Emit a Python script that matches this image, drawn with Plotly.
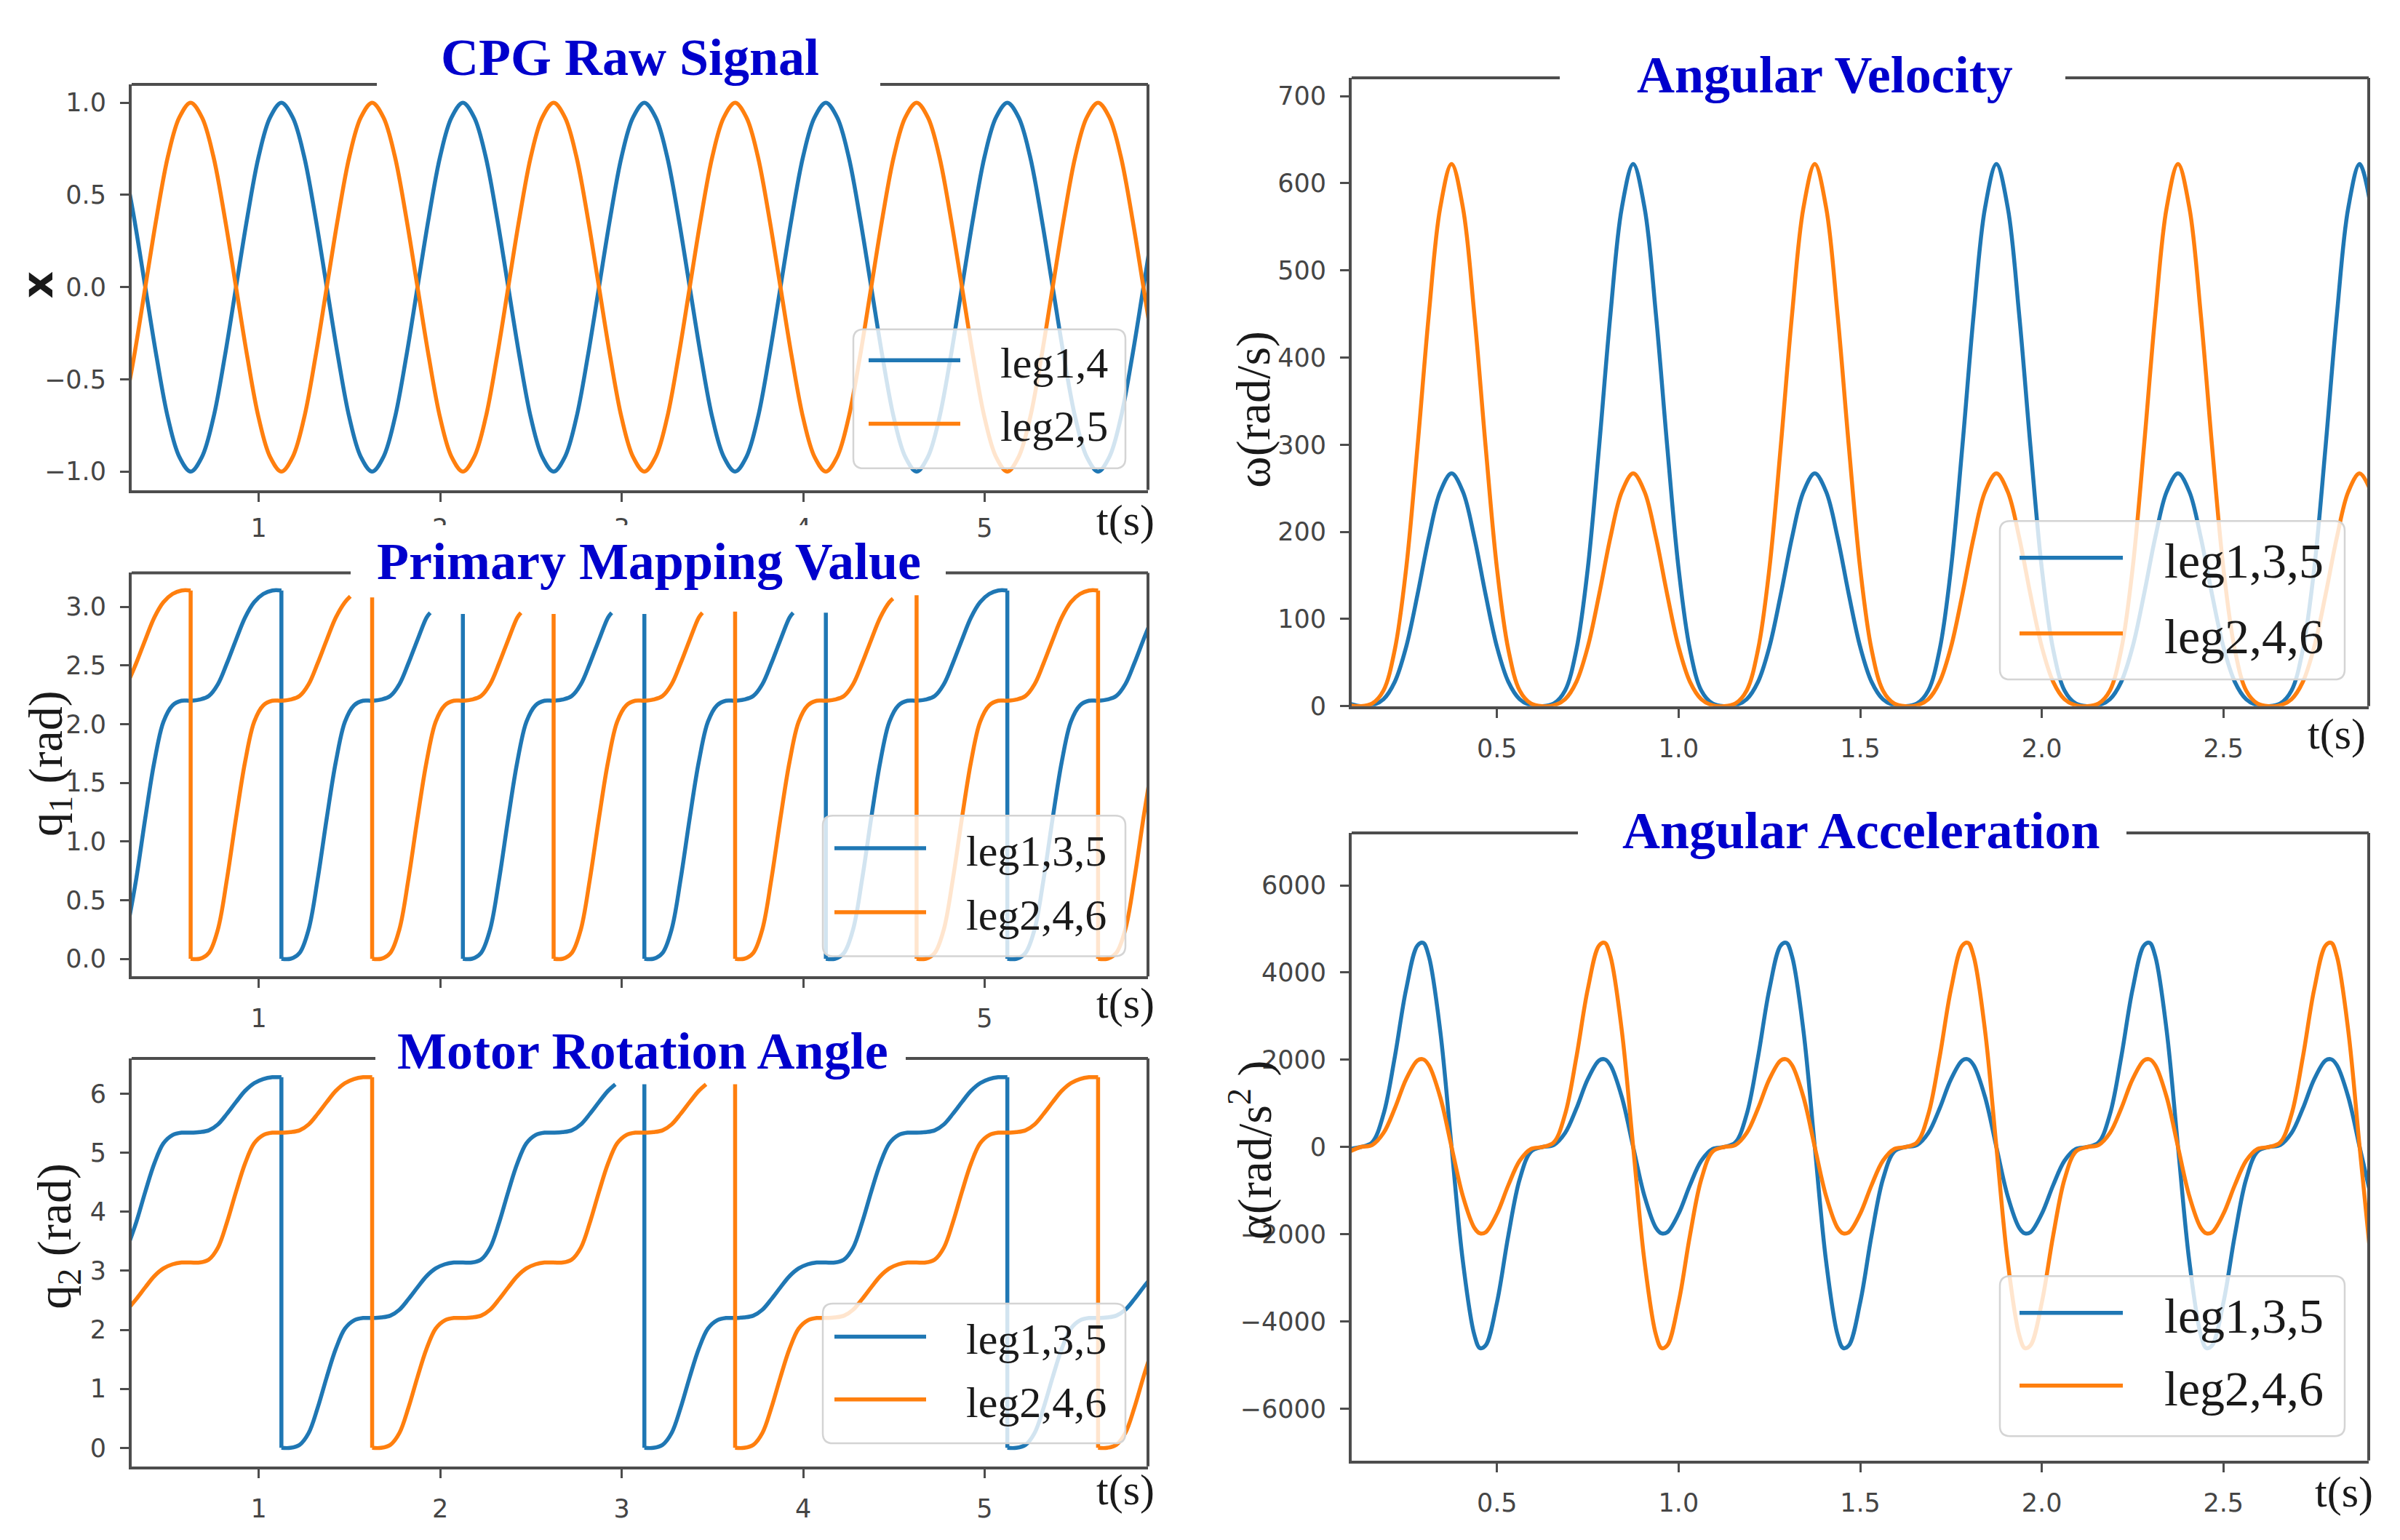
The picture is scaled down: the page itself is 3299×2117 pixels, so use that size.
import plotly.graph_objects as go

W, H = 3299, 2117
BLUE = "#1f77b4"
ORANGE = "#ff7f0e"
INK = "#4d4d4d"
TITLE_BLUE = "#0000cc"

# ---------------- data ----------------
# CPG raw signal
t_cpg = [0.25, 0.3125, 0.375, 0.4375, 0.5, 0.5625, 0.625, 0.6875, 0.75, 0.8125, 0.875, 0.9375,
         1.0, 1.0625, 1.125, 1.1875, 1.25, 1.3125, 1.375, 1.4375, 1.5, 1.5625, 1.625, 1.6875,
         1.75, 1.8125, 1.875, 1.9375, 2.0, 2.0625, 2.125, 2.1875, 2.25, 2.3125, 2.375, 2.4375,
         2.5, 2.5625, 2.625, 2.6875, 2.75, 2.8125, 2.875, 2.9375, 3.0, 3.0625, 3.125, 3.1875,
         3.25, 3.3125, 3.375, 3.4375, 3.5, 3.5625, 3.625, 3.6875, 3.75, 3.8125, 3.875, 3.9375,
         4.0, 4.0625, 4.125, 4.1875, 4.25, 4.3125, 4.375, 4.4375, 4.5, 4.5625, 4.625, 4.6875,
         4.75, 4.8125, 4.875, 4.9375, 5.0, 5.0625, 5.125, 5.1875, 5.25, 5.3125, 5.375, 5.4375,
         5.5, 5.5625, 5.625, 5.6875, 5.75, 5.8125, 5.875, 5.9375, 6.0]
x_leg14 = [0.71, 0.38, 0.0, -0.38, -0.71, -0.92, -1.0, -0.92, -0.71, -0.38, 0.0, 0.38, 0.71, 0.92, 1.0, 0.92,
           0.71, 0.38, 0.0, -0.38, -0.71, -0.92, -1.0, -0.92, -0.71, -0.38, 0.0, 0.38, 0.71, 0.92, 1.0, 0.92,
           0.71, 0.38, 0.0, -0.38, -0.71, -0.92, -1.0, -0.92, -0.71, -0.38, 0.0, 0.38, 0.71, 0.92, 1.0, 0.92,
           0.71, 0.38, 0.0, -0.38, -0.71, -0.92, -1.0, -0.92, -0.71, -0.38, 0.0, 0.38, 0.71, 0.92, 1.0, 0.92,
           0.71, 0.38, 0.0, -0.38, -0.71, -0.92, -1.0, -0.92, -0.71, -0.38, 0.0, 0.38, 0.71, 0.92, 1.0, 0.92,
           0.71, 0.38, 0.0, -0.38, -0.71, -0.92, -1.0, -0.92, -0.71, -0.38, 0.0, 0.38, 0.71]
x_leg25 = [-0.71, -0.38, 0.0, 0.38, 0.71, 0.92, 1.0, 0.92, 0.71, 0.38, 0.0, -0.38, -0.71, -0.92, -1.0, -0.92,
           -0.71, -0.38, 0.0, 0.38, 0.71, 0.92, 1.0, 0.92, 0.71, 0.38, 0.0, -0.38, -0.71, -0.92, -1.0, -0.92,
           -0.71, -0.38, 0.0, 0.38, 0.71, 0.92, 1.0, 0.92, 0.71, 0.38, 0.0, -0.38, -0.71, -0.92, -1.0, -0.92,
           -0.71, -0.38, 0.0, 0.38, 0.71, 0.92, 1.0, 0.92, 0.71, 0.38, 0.0, -0.38, -0.71, -0.92, -1.0, -0.92,
           -0.71, -0.38, 0.0, 0.38, 0.71, 0.92, 1.0, 0.92, 0.71, 0.38, 0.0, -0.38, -0.71, -0.92, -1.0, -0.92,
           -0.71, -0.38, 0.0, 0.38, 0.71, 0.92, 1.0, 0.92, 0.71, 0.38, 0.0, -0.38, -0.71]

# Primary mapping value q1 (None = break in the drawn curve)
t_q1_leg135 = [
    0.275, 0.325, 0.375, 0.425, 0.475, 0.525, 0.575, 0.625, 0.675, 0.725, 0.775, 0.825,
    0.875, 0.925, 0.975, 1.025, 1.075, 1.125,
    None, 1.125, 1.125, None,
    1.125, 1.175, 1.225, 1.275, 1.325, 1.375, 1.425, 1.475, 1.525, 1.575, 1.625, 1.675,
    1.725, 1.775, 1.825, 1.875, 1.925, 1.945,
    None, 2.125, 2.125, None,
    2.125, 2.175, 2.225, 2.275, 2.325, 2.375, 2.425, 2.475, 2.525, 2.575, 2.625, 2.675,
    2.725, 2.775, 2.825, 2.875, 2.925, 2.945,
    None, 3.125, 3.125, None,
    3.125, 3.175, 3.225, 3.275, 3.325, 3.375, 3.425, 3.475, 3.525, 3.575, 3.625, 3.675,
    3.725, 3.775, 3.825, 3.875, 3.925, 3.945,
    None, 4.125, 4.125, None,
    4.125, 4.175, 4.225, 4.275, 4.325, 4.375, 4.425, 4.475, 4.525, 4.575, 4.625, 4.675,
    4.725, 4.775, 4.825, 4.875, 4.925, 4.975, 5.025, 5.075, 5.125,
    None, 5.125, 5.125, None,
    5.125, 5.175, 5.225, 5.275, 5.325, 5.375, 5.425, 5.475, 5.525, 5.575, 5.625, 5.675,
    5.725, 5.775, 5.825, 5.875, 5.925]
q1_leg135 = [
    0.25, 0.68, 1.20, 1.68, 2.02, 2.16, 2.20, 2.20, 2.21, 2.24, 2.34, 2.52,
    2.72, 2.91, 3.04, 3.11, 3.14, 3.14,
    None, 3.14, 0.0, None,
    0.0, 0.0, 0.05, 0.25, 0.68, 1.20, 1.68, 2.02, 2.16, 2.20, 2.20, 2.21,
    2.24, 2.34, 2.52, 2.72, 2.91, 2.95,
    None, 2.94, 0.0, None,
    0.0, 0.0, 0.05, 0.25, 0.68, 1.20, 1.68, 2.02, 2.16, 2.20, 2.20, 2.21,
    2.24, 2.34, 2.52, 2.72, 2.91, 2.95,
    None, 2.94, 0.0, None,
    0.0, 0.0, 0.05, 0.25, 0.68, 1.20, 1.68, 2.02, 2.16, 2.20, 2.20, 2.21,
    2.24, 2.34, 2.52, 2.72, 2.91, 2.95,
    None, 2.95, 0.0, None,
    0.0, 0.0, 0.05, 0.25, 0.68, 1.20, 1.68, 2.02, 2.16, 2.20, 2.20, 2.21,
    2.24, 2.34, 2.52, 2.72, 2.91, 3.04, 3.11, 3.14, 3.14,
    None, 3.14, 0.0, None,
    0.0, 0.0, 0.05, 0.25, 0.68, 1.20, 1.68, 2.02, 2.16, 2.20, 2.20, 2.21,
    2.24, 2.34, 2.52, 2.72, 2.91]

t_q1_leg246 = [
    0.275, 0.325, 0.375, 0.425, 0.475, 0.525, 0.575, 0.625,
    None, 0.625, 0.625, None,
    0.625, 0.675, 0.725, 0.775, 0.825, 0.875, 0.925, 0.975, 1.025, 1.075, 1.125, 1.175,
    1.225, 1.275, 1.325, 1.375, 1.425, 1.475, 1.505,
    None, 1.625, 1.625, None,
    1.625, 1.675, 1.725, 1.775, 1.825, 1.875, 1.925, 1.975, 2.025, 2.075, 2.125, 2.175,
    2.225, 2.275, 2.325, 2.375, 2.425, 2.445,
    None, 2.625, 2.625, None,
    2.625, 2.675, 2.725, 2.775, 2.825, 2.875, 2.925, 2.975, 3.025, 3.075, 3.125, 3.175,
    3.225, 3.275, 3.325, 3.375, 3.425, 3.445,
    None, 3.625, 3.625, None,
    3.625, 3.675, 3.725, 3.775, 3.825, 3.875, 3.925, 3.975, 4.025, 4.075, 4.125, 4.175,
    4.225, 4.275, 4.325, 4.375, 4.425, 4.475, 4.495,
    None, 4.625, 4.625, None,
    4.625, 4.675, 4.725, 4.775, 4.825, 4.875, 4.925, 4.975, 5.025, 5.075, 5.125, 5.175,
    5.225, 5.275, 5.325, 5.375, 5.425, 5.475, 5.525, 5.575, 5.625,
    None, 5.625, 5.625, None,
    5.625, 5.675, 5.725, 5.775, 5.825, 5.875, 5.925]
q1_leg246 = [
    2.34, 2.52, 2.72, 2.91, 3.04, 3.11, 3.14, 3.14,
    None, 3.14, 0.0, None,
    0.0, 0.0, 0.05, 0.25, 0.68, 1.20, 1.68, 2.02, 2.16, 2.20, 2.20, 2.21,
    2.24, 2.34, 2.52, 2.72, 2.91, 3.04, 3.09,
    None, 3.08, 0.0, None,
    0.0, 0.0, 0.05, 0.25, 0.68, 1.20, 1.68, 2.02, 2.16, 2.20, 2.20, 2.21,
    2.24, 2.34, 2.52, 2.72, 2.91, 2.95,
    None, 2.94, 0.0, None,
    0.0, 0.0, 0.05, 0.25, 0.68, 1.20, 1.68, 2.02, 2.16, 2.20, 2.20, 2.21,
    2.24, 2.34, 2.52, 2.72, 2.91, 2.95,
    None, 2.96, 0.0, None,
    0.0, 0.0, 0.05, 0.25, 0.68, 1.20, 1.68, 2.02, 2.16, 2.20, 2.20, 2.21,
    2.24, 2.34, 2.52, 2.72, 2.91, 3.04, 3.07,
    None, 3.10, 0.0, None,
    0.0, 0.0, 0.05, 0.25, 0.68, 1.20, 1.68, 2.02, 2.16, 2.20, 2.20, 2.21,
    2.24, 2.34, 2.52, 2.72, 2.91, 3.04, 3.11, 3.14, 3.14,
    None, 3.14, 0.0, None,
    0.0, 0.0, 0.05, 0.25, 0.68, 1.20, 1.68]

# Motor rotation angle q2
t_q2_leg135 = [
    0.275, 0.325, 0.375, 0.425, 0.475, 0.525, 0.575, 0.625, 0.675, 0.725, 0.775, 0.825,
    0.875, 0.925, 0.975, 1.025, 1.075, 1.125,
    None, 1.125, 1.125, None,
    1.125, 1.175, 1.225, 1.275, 1.325, 1.375, 1.425, 1.475, 1.525, 1.575, 1.625, 1.675,
    1.725, 1.775, 1.825, 1.875, 1.925, 1.975, 2.025, 2.075, 2.125, 2.175, 2.225, 2.275,
    2.325, 2.375, 2.425, 2.475, 2.525, 2.575, 2.625, 2.675, 2.725, 2.775, 2.825, 2.875,
    2.925, 2.965,
    None, 3.125, 3.125, None,
    3.125, 3.175, 3.225, 3.275, 3.325, 3.375, 3.425, 3.475, 3.525, 3.575, 3.625, 3.675,
    3.725, 3.775, 3.825, 3.875, 3.925, 3.975, 4.025, 4.075, 4.125, 4.175, 4.225, 4.275,
    4.325, 4.375, 4.425, 4.475, 4.525, 4.575, 4.625, 4.675, 4.725, 4.775, 4.825, 4.875,
    4.925, 4.975, 5.025, 5.075, 5.125,
    None, 5.125, 5.125, None,
    5.125, 5.175, 5.225, 5.275, 5.325, 5.375, 5.425, 5.475, 5.525, 5.575, 5.625, 5.675,
    5.725, 5.775, 5.825, 5.875, 5.925]
q2_leg135 = [
    3.39, 3.82, 4.34, 4.82, 5.16, 5.30, 5.34, 5.34, 5.35, 5.38, 5.48, 5.66,
    5.86, 6.05, 6.18, 6.25, 6.28, 6.28,
    None, 6.28, 0.0, None,
    0.0, 0.0, 0.05, 0.25, 0.68, 1.20, 1.68, 2.02, 2.16, 2.20, 2.20, 2.21,
    2.24, 2.34, 2.52, 2.72, 2.91, 3.04, 3.11, 3.14, 3.14, 3.14, 3.19, 3.39,
    3.82, 4.34, 4.82, 5.16, 5.30, 5.34, 5.34, 5.35, 5.38, 5.48, 5.66, 5.86,
    6.05, 6.16,
    None, 6.16, 0.0, None,
    0.0, 0.0, 0.05, 0.25, 0.68, 1.20, 1.68, 2.02, 2.16, 2.20, 2.20, 2.21,
    2.24, 2.34, 2.52, 2.72, 2.91, 3.04, 3.11, 3.14, 3.14, 3.14, 3.19, 3.39,
    3.82, 4.34, 4.82, 5.16, 5.30, 5.34, 5.34, 5.35, 5.38, 5.48, 5.66, 5.86,
    6.05, 6.18, 6.25, 6.28, 6.28,
    None, 6.28, 0.0, None,
    0.0, 0.0, 0.05, 0.25, 0.68, 1.20, 1.68, 2.02, 2.16, 2.20, 2.20, 2.21,
    2.24, 2.34, 2.52, 2.72, 2.91]

t_q2_leg246 = [
    0.275, 0.325, 0.375, 0.425, 0.475, 0.525, 0.575, 0.625, 0.675, 0.725, 0.775, 0.825,
    0.875, 0.925, 0.975, 1.025, 1.075, 1.125, 1.175, 1.225, 1.275, 1.325, 1.375, 1.425,
    1.475, 1.525, 1.575, 1.625,
    None, 1.625, 1.625, None,
    1.625, 1.675, 1.725, 1.775, 1.825, 1.875, 1.925, 1.975, 2.025, 2.075, 2.125, 2.175,
    2.225, 2.275, 2.325, 2.375, 2.425, 2.475, 2.525, 2.575, 2.625, 2.675, 2.725, 2.775,
    2.825, 2.875, 2.925, 2.975, 3.025, 3.075, 3.125, 3.175, 3.225, 3.275, 3.325, 3.375,
    3.425, 3.465,
    None, 3.625, 3.625, None,
    3.625, 3.675, 3.725, 3.775, 3.825, 3.875, 3.925, 3.975, 4.025, 4.075, 4.125, 4.175,
    4.225, 4.275, 4.325, 4.375, 4.425, 4.475, 4.525, 4.575, 4.625, 4.675, 4.725, 4.775,
    4.825, 4.875, 4.925, 4.975, 5.025, 5.075, 5.125, 5.175, 5.225, 5.275, 5.325, 5.375,
    5.425, 5.475, 5.525, 5.575, 5.625,
    None, 5.625, 5.625, None,
    5.625, 5.675, 5.725, 5.775, 5.825, 5.875, 5.925]
q2_leg246 = [
    2.34, 2.52, 2.72, 2.91, 3.04, 3.11, 3.14, 3.14, 3.14, 3.19, 3.39, 3.82,
    4.34, 4.82, 5.16, 5.30, 5.34, 5.34, 5.35, 5.38, 5.48, 5.66, 5.86, 6.05,
    6.18, 6.25, 6.28, 6.28,
    None, 6.28, 0.0, None,
    0.0, 0.0, 0.05, 0.25, 0.68, 1.20, 1.68, 2.02, 2.16, 2.20, 2.20, 2.21,
    2.24, 2.34, 2.52, 2.72, 2.91, 3.04, 3.11, 3.14, 3.14, 3.14, 3.19, 3.39,
    3.82, 4.34, 4.82, 5.16, 5.30, 5.34, 5.34, 5.35, 5.38, 5.48, 5.66, 5.86,
    6.05, 6.16,
    None, 6.16, 0.0, None,
    0.0, 0.0, 0.05, 0.25, 0.68, 1.20, 1.68, 2.02, 2.16, 2.20, 2.20, 2.21,
    2.24, 2.34, 2.52, 2.72, 2.91, 3.04, 3.11, 3.14, 3.14, 3.14, 3.19, 3.39,
    3.82, 4.34, 4.82, 5.16, 5.30, 5.34, 5.34, 5.35, 5.38, 5.48, 5.66, 5.86,
    6.05, 6.18, 6.25, 6.28, 6.28,
    None, 6.28, 0.0, None,
    0.0, 0.0, 0.05, 0.25, 0.68, 1.20, 1.68]

# Angular velocity
t_omega = [
    0.09375,
    0.125, 0.15625, 0.1875, 0.21875, 0.25, 0.28125, 0.3125, 0.34375,
    0.375, 0.40625, 0.4375, 0.46875, 0.5, 0.53125, 0.5625, 0.59375,
    0.625, 0.65625, 0.6875, 0.71875, 0.75, 0.78125, 0.8125, 0.84375,
    0.875, 0.90625, 0.9375, 0.96875, 1.0, 1.03125, 1.0625, 1.09375,
    1.125, 1.15625, 1.1875, 1.21875, 1.25, 1.28125, 1.3125, 1.34375,
    1.375, 1.40625, 1.4375, 1.46875, 1.5, 1.53125, 1.5625, 1.59375,
    1.625, 1.65625, 1.6875, 1.71875, 1.75, 1.78125, 1.8125, 1.84375,
    1.875, 1.90625, 1.9375, 1.96875, 2.0, 2.03125, 2.0625, 2.09375,
    2.125, 2.15625, 2.1875, 2.21875, 2.25, 2.28125, 2.3125, 2.34375,
    2.375, 2.40625, 2.4375, 2.46875, 2.5, 2.53125, 2.5625, 2.59375,
    2.625, 2.65625, 2.6875, 2.71875, 2.75, 2.78125, 2.8125, 2.84375,
    2.875, 2.90625]
omega_leg135 = [
    3,
    0, 1, 8, 28, 68, 128, 194, 246, 267, 246, 194, 128, 68, 28, 8, 1,
    0, 3, 18, 65, 158, 298, 450, 572, 622, 572, 450, 298, 158, 65, 18, 3,
    0, 1, 8, 28, 68, 128, 194, 246, 267, 246, 194, 128, 68, 28, 8, 1,
    0, 3, 18, 65, 158, 298, 450, 572, 622, 572, 450, 298, 158, 65, 18, 3,
    0, 1, 8, 28, 68, 128, 194, 246, 267, 246, 194, 128, 68, 28, 8, 1,
    0, 3, 18, 65, 158, 298, 450, 572, 622, 572]
omega_leg246 = [
    1,
    0, 3, 18, 65, 158, 298, 450, 572, 622, 572, 450, 298, 158, 65, 18, 3,
    0, 1, 8, 28, 68, 128, 194, 246, 267, 246, 194, 128, 68, 28, 8, 1,
    0, 3, 18, 65, 158, 298, 450, 572, 622, 572, 450, 298, 158, 65, 18, 3,
    0, 1, 8, 28, 68, 128, 194, 246, 267, 246, 194, 128, 68, 28, 8, 1,
    0, 3, 18, 65, 158, 298, 450, 572, 622, 572, 450, 298, 158, 65, 18, 3,
    0, 1, 8, 28, 68, 128, 194, 246, 267, 246]

# Angular acceleration (a few extra points around the extremes)
t_alpha = [
    0.09375,
    0.125, 0.15625, 0.1875, 0.21875, 0.25, 0.28125, 0.296875, 0.3125, 0.34375,
    0.375, 0.40625, 0.4375, 0.453125, 0.46875, 0.5, 0.53125, 0.5625, 0.59375,
    0.625, 0.65625, 0.6875, 0.71875, 0.75, 0.78125, 0.796875, 0.8125, 0.84375,
    0.875, 0.90625, 0.9375, 0.953125, 0.96875, 1.0, 1.03125, 1.0625, 1.09375,
    1.125, 1.15625, 1.1875, 1.21875, 1.25, 1.28125, 1.296875, 1.3125, 1.34375,
    1.375, 1.40625, 1.4375, 1.453125, 1.46875, 1.5, 1.53125, 1.5625, 1.59375,
    1.625, 1.65625, 1.6875, 1.71875, 1.75, 1.78125, 1.796875, 1.8125, 1.84375,
    1.875, 1.90625, 1.9375, 1.953125, 1.96875, 2.0, 2.03125, 2.0625, 2.09375,
    2.125, 2.15625, 2.1875, 2.21875, 2.25, 2.28125, 2.296875, 2.3125, 2.34375,
    2.375, 2.40625, 2.4375, 2.453125, 2.46875, 2.5, 2.53125, 2.5625, 2.59375,
    2.625, 2.65625, 2.6875, 2.71875, 2.75, 2.78125, 2.796875, 2.8125, 2.84375,
    2.875, 2.90625]
alpha_leg135 = [
    -45,
    0, 105, 750, 2065, 3620, 4620, 4680, 4370, 2665,
    0, -2630, -4300, -4610, -4550, -3565, -2030, -740, -105,
    0, 45, 320, 885, 1555, 1985, 2010, 1875, 1145,
    0, -1130, -1850, -1980, -1955, -1530, -875, -315, -45,
    0, 105, 750, 2065, 3620, 4620, 4680, 4370, 2665,
    0, -2630, -4300, -4610, -4550, -3565, -2030, -740, -105,
    0, 45, 320, 885, 1555, 1985, 2010, 1875, 1145,
    0, -1130, -1850, -1980, -1955, -1530, -875, -315, -45,
    0, 105, 750, 2065, 3620, 4620, 4680, 4370, 2665,
    0, -2630, -4300, -4610, -4550, -3565, -2030, -740, -105,
    0, 45, 320, 885, 1555, 1985, 2010, 1875, 1145,
    0, -1130]
alpha_leg246 = [
    -105,
    0, 45, 320, 885, 1555, 1985, 2010, 1875, 1145,
    0, -1130, -1850, -1980, -1955, -1530, -875, -315, -45,
    0, 105, 750, 2065, 3620, 4620, 4680, 4370, 2665,
    0, -2630, -4300, -4610, -4550, -3565, -2030, -740, -105,
    0, 45, 320, 885, 1555, 1985, 2010, 1875, 1145,
    0, -1130, -1850, -1980, -1955, -1530, -875, -315, -45,
    0, 105, 750, 2065, 3620, 4620, 4680, 4370, 2665,
    0, -2630, -4300, -4610, -4550, -3565, -2030, -740, -105,
    0, 45, 320, 885, 1555, 1985, 2010, 1875, 1145,
    0, -1130, -1850, -1980, -1955, -1530, -875, -315, -45,
    0, 105, 750, 2065, 3620, 4620, 4680, 4370, 2665,
    0, -2630]

# tick values / labels
ticks_t_long = [1, 2, 3, 4, 5]
ticks_t_long_text = ["1", "2", "3", "4", "5"]
ticks_t_long_text_hidden = ["1", "", "", "", "5"]   # 2..4 are covered in the picture
ticks_t_short = [0.5, 1.0, 1.5, 2.0, 2.5]
ticks_t_short_text = ["0.5", "1.0", "1.5", "2.0", "2.5"]
ticks_x = [-1.0, -0.5, 0.0, 0.5, 1.0]
ticks_x_text = ["\u22121.0", "\u22120.5", "0.0", "0.5", "1.0"]
ticks_q1 = [0.0, 0.5, 1.0, 1.5, 2.0, 2.5, 3.0]
ticks_q1_text = ["0.0", "0.5", "1.0", "1.5", "2.0", "2.5", "3.0"]
ticks_q2 = [0, 1, 2, 3, 4, 5, 6]
ticks_q2_text = ["0", "1", "2", "3", "4", "5", "6"]
ticks_omega = [0, 100, 200, 300, 400, 500, 600, 700]
ticks_omega_text = ["0", "100", "200", "300", "400", "500", "600", "700"]
ticks_alpha = [-6000, -4000, -2000, 0, 2000, 4000, 6000]
ticks_alpha_text = ["\u22126000", "\u22124000", "\u22122000", "0", "2000", "4000", "6000"]

# ---------------- layout geometry (pixels of the 3299x2117 page) ----------------
panels = {
    1: dict(box=(181, 117, 1578, 680), xr=[0.3, 5.9], yr=[-1.1, 1.1],
            xt=(ticks_t_long, ticks_t_long_text), yt=(ticks_x, ticks_x_text), xstand=6,
            title="CPG Raw Signal", tc=(866, 80), gap=(518, 1210),
            ylab="<b>x</b>", yl=(52, 396), ts=(1547, 722)),
    2: dict(box=(181, 795, 1578, 1355), xr=[0.3, 5.9], yr=[-0.15, 3.29],
            xt=(ticks_t_long, ticks_t_long_text_hidden), yt=(ticks_q1, ticks_q1_text), xstand=12,
            title="Primary Mapping Value", tc=(892, 779), gap=(482, 1300),
            ylab="q<sub>1</sub> (rad)", yl=(68, 1060), ts=(1547, 1392)),
    3: dict(box=(181, 1469, 1578, 2035), xr=[0.3, 5.9], yr=[-0.314, 6.597],
            xt=(ticks_t_long, ticks_t_long_text), yt=(ticks_q2, ticks_q2_text), xstand=12,
            title="Motor Rotation Angle", tc=(883, 1459), gap=(516, 1245),
            ylab="q<sub>2</sub> (rad)", yl=(80, 1716), ts=(1547, 2068)),
    4: dict(box=(1858, 108, 3256, 980), xr=[0.1, 2.9], yr=[0, 721],
            xt=(ticks_t_short, ticks_t_short_text), yt=(ticks_omega, ticks_omega_text), xstand=12,
            title="Angular Velocity", tc=(2508, 104), gap=(2144, 2839),
            ylab="\u03c9(rad/s)", yl=(1723, 568), ts=(3212, 1019)),
    5: dict(box=(1858, 1156, 3256, 2027), xr=[0.1, 2.9], yr=[-7190, 7200],
            xt=(ticks_t_short, ticks_t_short_text), yt=(ticks_alpha, ticks_alpha_text), xstand=12,
            title="Angular Acceleration", tc=(2558, 1153), gap=(2169, 2923),
            ylab="\u03b1(rad/s<sup>2</sup> )", yl=(1720, 1596), ts=(3222, 2071)),
}

legends = {
    1: dict(box=(1173, 457, 1547, 650), line=(1194, 1320), ys=(500, 588), tx=1373, size=60,
            names=("leg1,4", "leg2,5")),
    2: dict(box=(1131, 1132, 1547, 1327), line=(1147, 1273), ys=(1177, 1266), tx=1326, size=60,
            names=("leg1,3,5", "leg2,4,6")),
    3: dict(box=(1131, 1809, 1547, 2003), line=(1147, 1273), ys=(1855, 1942), tx=1326, size=60,
            names=("leg1,3,5", "leg2,4,6")),
    4: dict(box=(2749, 723, 3223, 943), line=(2776, 2918), ys=(774, 879), tx=2973, size=68,
            names=("leg1,3,5", "leg2,4,6")),
    5: dict(box=(2749, 1771, 3223, 1993), line=(2776, 2918), ys=(1822, 1923), tx=2973, size=68,
            names=("leg1,3,5", "leg2,4,6")),
}

# white patch where the pasted second title hides the lower half of ticks 2..4 above it
covers = [(482, 729, 1300, 802)]


def fx(p):
    return p / W


def fy(p):
    return 1 - p / H


def ax_name(kind, n):
    return kind if n == 1 else f"{kind}{n}"


series = [
    (1, t_cpg, x_leg14, BLUE, "leg1,4"),
    (1, t_cpg, x_leg25, ORANGE, "leg2,5"),
    (2, t_q1_leg135, q1_leg135, BLUE, "leg1,3,5"),
    (2, t_q1_leg246, q1_leg246, ORANGE, "leg2,4,6"),
    (3, t_q2_leg135, q2_leg135, BLUE, "leg1,3,5"),
    (3, t_q2_leg246, q2_leg246, ORANGE, "leg2,4,6"),
    (4, t_omega, omega_leg135, BLUE, "leg1,3,5"),
    (4, t_omega, omega_leg246, ORANGE, "leg2,4,6"),
    (5, t_alpha, alpha_leg135, BLUE, "leg1,3,5"),
    (5, t_alpha, alpha_leg246, ORANGE, "leg2,4,6"),
]
for n, xs, ys, _, name in series:
    assert len(xs) == len(ys), (n, name, len(xs), len(ys))

fig = go.Figure()
for n, xs, ys, color, name in series:
    fig.add_trace(go.Scatter(
        x=xs, y=ys, mode="lines", name=name, showlegend=False, hoverinfo="skip",
        connectgaps=False,
        line=dict(color=color, width=5.5, shape="spline", smoothing=1.0, simplify=False),
        xaxis=ax_name("x", n), yaxis=ax_name("y", n),
    ))

tick_font = dict(family="DejaVu Sans", size=35, color="#454545")
serif = "Liberation Serif"
layout_axes = {}
shapes = []
annotations = []

for n, p in panels.items():
    x0, y0, x1, y1 = p["box"]
    common = dict(showgrid=False, zeroline=False, showline=True, linecolor=INK, linewidth=4,
                  ticks="outside", ticklen=12, tickwidth=3, tickcolor=INK, tickfont=tick_font,
                  tickmode="array", fixedrange=True)
    layout_axes[ax_name("xaxis", n)] = dict(
        common, domain=[fx(x0), fx(x1)], range=p["xr"], anchor=ax_name("y", n),
        tickvals=p["xt"][0], ticktext=p["xt"][1], ticklabelstandoff=p["xstand"])
    layout_axes[ax_name("yaxis", n)] = dict(
        common, domain=[fy(y1), fy(y0)], range=p["yr"], anchor=ax_name("x", n),
        tickvals=p["yt"][0], ticktext=p["yt"][1], ticklabelstandoff=12)

    # right spine and the broken top spine
    xd = ax_name("x", n) + " domain"
    yd = ax_name("y", n) + " domain"
    g0 = (p["gap"][0] - x0) / (x1 - x0)
    g1 = (p["gap"][1] - x0) / (x1 - x0)
    for sx0, sy0, sx1, sy1 in [(1, 0, 1, 1), (0, 1, g0, 1), (g1, 1, 1, 1)]:
        shapes.append(dict(type="line", xref=xd, yref=yd, x0=sx0, y0=sy0, x1=sx1, y1=sy1,
                           line=dict(color=INK, width=4)))

    annotations.append(dict(text=f"<b>{p['title']}</b>", x=fx(p["tc"][0]), y=fy(p["tc"][1]),
                            xref="paper", yref="paper", showarrow=False,
                            xanchor="center", yanchor="middle",
                            font=dict(family=serif, size=72, color=TITLE_BLUE)))
    if n == 1:
        ylab_font = dict(family="DejaVu Sans", size=58, color="#1a1a1a")
    else:
        ylab_font = dict(family=serif, size=66, color="#1a1a1a")
    annotations.append(dict(text=p["ylab"], x=fx(p["yl"][0]), y=fy(p["yl"][1]), textangle=-90,
                            xref="paper", yref="paper", showarrow=False,
                            xanchor="center", yanchor="middle", font=ylab_font))
    annotations.append(dict(text="t(s)", x=fx(p["ts"][0]), y=fy(p["ts"][1]),
                            xref="paper", yref="paper", showarrow=False,
                            xanchor="center", yanchor="middle",
                            font=dict(family=serif, size=60, color="#1a1a1a")))

for cx0, cy0, cx1, cy1 in covers:
    shapes.append(dict(type="rect", xref="paper", yref="paper",
                       x0=fx(cx0), y0=fy(cy1), x1=fx(cx1), y1=fy(cy0),
                       fillcolor="white", line=dict(width=0)))


def rounded_box(bx0, by0, bx1, by1, r=14):
    X = lambda v: f"{fx(v):.6f}"
    Y = lambda v: f"{fy(v):.6f}"
    return (f"M {X(bx0 + r)},{Y(by0)} L {X(bx1 - r)},{Y(by0)} Q {X(bx1)},{Y(by0)} {X(bx1)},{Y(by0 + r)} "
            f"L {X(bx1)},{Y(by1 - r)} Q {X(bx1)},{Y(by1)} {X(bx1 - r)},{Y(by1)} "
            f"L {X(bx0 + r)},{Y(by1)} Q {X(bx0)},{Y(by1)} {X(bx0)},{Y(by1 - r)} "
            f"L {X(bx0)},{Y(by0 + r)} Q {X(bx0)},{Y(by0)} {X(bx0 + r)},{Y(by0)} Z")


# hand-drawn legends, matplotlib style (long line samples)
for n, lg in legends.items():
    shapes.append(dict(type="path", xref="paper", yref="paper", path=rounded_box(*lg["box"]),
                       fillcolor="rgba(255,255,255,0.8)", line=dict(color="#d4d4d4", width=2.5)))
    for yy, color, label in zip(lg["ys"], (BLUE, ORANGE), lg["names"]):
        shapes.append(dict(type="line", xref="paper", yref="paper",
                           x0=fx(lg["line"][0]), x1=fx(lg["line"][1]), y0=fy(yy), y1=fy(yy),
                           line=dict(color=color, width=5.5)))
        annotations.append(dict(text=label, x=fx(lg["tx"]), y=fy(yy + 4), xref="paper", yref="paper",
                                showarrow=False, xanchor="left", yanchor="middle",
                                font=dict(family=serif, size=lg["size"], color="#1a1a1a")))

fig.update_layout(
    width=W, height=H, autosize=False,
    margin=dict(l=0, r=0, t=0, b=0),
    paper_bgcolor="white", plot_bgcolor="white",
    showlegend=False,
    shapes=shapes, annotations=annotations,
    **layout_axes,
)

fig.write_html("out.html", config={"displayModeBar": False},
               post_script="document.body.style.margin='0px';")
